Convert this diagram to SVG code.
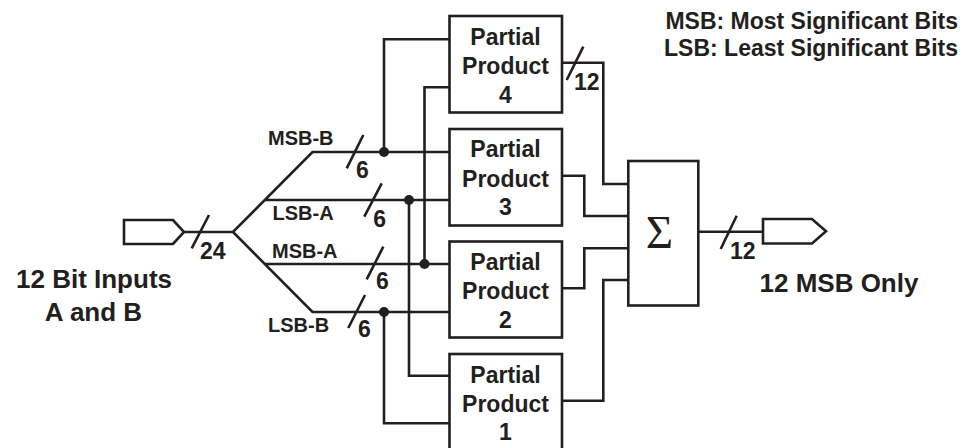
<svg xmlns="http://www.w3.org/2000/svg" width="964" height="448" viewBox="0 0 964 448">
<style>
.ln{fill:none;stroke:#231f20;stroke-width:2.6;stroke-linejoin:miter;stroke-linecap:butt}
.box{fill:#fff;stroke:#231f20;stroke-width:2.6}
.dot{fill:#231f20}
text{font-family:"Liberation Sans",Arial,sans-serif;font-weight:bold;fill:#231f20}
.pp{font-size:23px;text-anchor:middle}
.bus{font-size:20px}
.num{font-size:23px}
.big{font-size:26px}
.note{font-size:23px;text-anchor:end}
</style>
<rect width="964" height="448" fill="#fff"/>
<g id="connectors">
<path class="ln" d="M184,232 H233 L312.5,152 H449.5 M233,232 L312.5,312 H449.5 M265,200 H449.5 M265,264 H449.5"/>
<path class="ln" d="M384,152 V39.3 H449.5 M384,312 V423.3 H449.5 M409,200 V375.7 H449.5 M424.5,264 V87.3 H449.5"/>
<path class="ln" d="M562,62.7 H603.3 V184 H628.3 M562,175.7 H584.3 V216 H628.3 M562,288.3 H584.3 V248.3 H628.3 M562,400.7 H603.3 V280 H628.3"/>
<path class="ln" d="M698.3,231.7 H763"/>
<path class="ln" d="M191.7,248.3 L209,215 M346.7,168.3 L363.3,135 M364.3,216.7 L381.7,183.3 M366.7,279.3 L383.3,246.7 M348.3,328 L365,295 M566.7,80 L583.3,46.7 M720.7,249 L736.7,215.7"/>
<circle class="dot" cx="384" cy="152" r="5"/>
<circle class="dot" cx="409" cy="200" r="5"/>
<circle class="dot" cx="424.5" cy="264" r="5"/>
<circle class="dot" cx="384" cy="312" r="5"/>
<text class="bus" x="268" y="144.5">MSB-B</text>
<text class="bus" x="272.5" y="220">LSB-A</text>
<text class="bus" x="272" y="258">MSB-A</text>
<text class="bus" x="268" y="332">LSB-B</text>
<text class="num" x="356" y="177.5">6</text>
<text class="num" x="373.3" y="226.7">6</text>
<text class="num" x="376" y="289">6</text>
<text class="num" x="358" y="337">6</text>
<text class="num" x="200" y="258.5">24</text>
<text class="num" x="574" y="89.5">12</text>
<text class="num" x="730" y="258.5">12</text>
</g>
<g id="input">
<polygon class="box" points="124,220 173,220 184,232 173,244 124,244"/>
<text class="big" x="94" y="288" text-anchor="middle">12 Bit Inputs</text>
<text class="big" x="93.5" y="321" text-anchor="middle">A and B</text>
</g>
<g id="pp4">
<rect class="box" x="449.5" y="16" width="112.5" height="96.5"/>
<text class="pp" x="505.5" y="44.5">Partial</text>
<text class="pp" x="505.5" y="74">Product</text>
<text class="pp" x="505.5" y="102.5">4</text>
</g>
<g id="pp3">
<rect class="box" x="449.5" y="129" width="112.5" height="96.5"/>
<text class="pp" x="505.5" y="157">Partial</text>
<text class="pp" x="505.5" y="186.5">Product</text>
<text class="pp" x="505.5" y="215">3</text>
</g>
<g id="pp2">
<rect class="box" x="449.5" y="241.5" width="112.5" height="96"/>
<text class="pp" x="505.5" y="270">Partial</text>
<text class="pp" x="505.5" y="299">Product</text>
<text class="pp" x="505.5" y="327.5">2</text>
</g>
<g id="pp1">
<rect class="box" x="449.5" y="354" width="112.5" height="97"/>
<text class="pp" x="505.5" y="382.5">Partial</text>
<text class="pp" x="505.5" y="411.5">Product</text>
<text class="pp" x="505.5" y="440">1</text>
</g>
<g id="sum">
<rect class="box" x="628.3" y="161" width="70" height="144.5"/>
<text x="659.5" y="247.7" text-anchor="middle" style="font-family:'Liberation Serif','Times New Roman',serif;font-weight:normal;font-size:47px">Σ</text>
</g>
<g id="output">
<polygon class="box" points="763,219 812,219 826,231.3 812,243.5 763,243.5"/>
<text class="big" x="759.5" y="291.5">12 MSB Only</text>
</g>
<g id="legend">
<text class="note" x="958" y="29">MSB: Most Significant Bits</text>
<text class="note" x="958" y="56">LSB: Least Significant Bits</text>
</g>
</svg>
